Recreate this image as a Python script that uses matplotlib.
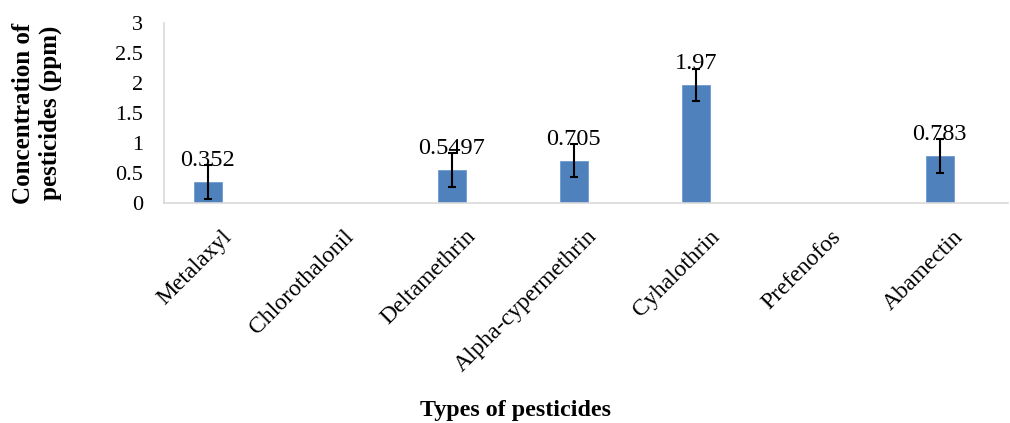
import matplotlib
matplotlib.use("Agg")
import matplotlib.pyplot as plt
import matplotlib.transforms as mtransforms

categories = ["Metalaxyl", "Chlorothalonil", "Deltamethrin", "Alpha-cypermethrin",
              "Cyhalothrin", "Prefenofos", "Abamectin"]
values = [0.352, 0.0, 0.5497, 0.705, 1.97, 0.0, 0.783]
errors = [0.28, 0.0, 0.28, 0.28, 0.27, 0.0, 0.28]
value_labels = ["0.352", "", "0.5497", "0.705", "1.97", "", "0.783"]
yticks = [0, 0.5, 1, 1.5, 2, 2.5, 3]
ytick_labels = ["0", "0.5", "1", "1.5", "2", "2.5", "3"]

plt.rcParams['font.family'] = ['Liberation Serif', 'DejaVu Serif']

fig = plt.figure(figsize=(10.10, 4.23), dpi=100)
ax = fig.add_axes([164/1010, 1-203/423, (1008-164)/1010, 180/423])

x = list(range(len(categories)))
ax.bar(x, values, width=0.23, color="#4F81BD", edgecolor="#6F9AD0", linewidth=0.6, zorder=2)
err_x = [xi for xi, e in zip(x, errors) if e > 0]
err_v = [v for v, e in zip(values, errors) if e > 0]
err_e = [e for e in errors if e > 0]
ax.errorbar(err_x, err_v, yerr=err_e, fmt='none', ecolor='black', elinewidth=1.5,
            capsize=3.2, capthick=1.5, zorder=3)

for xi, v, lab in zip(x, values, value_labels):
    if lab:
        ax.annotate(lab, (xi, v), xytext=(0, 11.5), textcoords='offset points',
                    ha='center', va='baseline', fontsize=17.5, zorder=4)

ax.set_xlim(-0.36, 6.56)
ax.set_ylim(0, 3)
ax.set_yticks(yticks)
ax.set_yticklabels(ytick_labels, fontsize=16)
ax.set_xticks(x)
ax.set_xticklabels([])

offset = mtransforms.ScaledTranslation(13/100, -23/100, fig.dpi_scale_trans)
for xi, cat in zip(x, categories):
    ax.text(xi, 0, cat, transform=ax.get_xaxis_transform() + offset,
            fontsize=17, rotation=45, ha='right', va='top', rotation_mode='anchor')

ax.tick_params(axis='both', length=0)
ax.tick_params(axis='y', pad=15)
for s in ['top', 'right']:
    ax.spines[s].set_visible(False)
for s in ['left', 'bottom']:
    ax.spines[s].set_color('#D9D9D9')
    ax.spines[s].set_linewidth(1.2)

fig.text(37/1010, 1-113/423, "Concentration of\npesticides (ppm)", rotation=90,
         ha='center', va='center', fontsize=18, fontweight='bold', linespacing=1.2,
         multialignment='center')
fig.text(515/1010, 1-410/423, "Types of pesticides", ha='center', va='center',
         fontsize=17.3, fontweight='bold')

fig.savefig("out.png", dpi=100)
